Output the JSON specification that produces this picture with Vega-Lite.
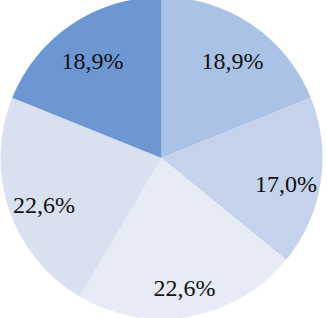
{
  "$schema": "https://vega.github.io/schema/vega-lite/v6.json",
  "width": 327,
  "height": 318,
  "autosize": {"type": "fit", "contains": "padding"},
  "padding": {"left": 0, "top": 0, "right": 4, "bottom": 2},
  "background": "white",
  "view": {"stroke": null},
  "data": {"values": [
    {"k": "a", "v": 18.9, "label": "18,9%"},
    {"k": "b", "v": 17.0, "label": "17,0%"},
    {"k": "c", "v": 22.6, "label": "22,6%"},
    {"k": "d", "v": 22.6, "label": "22,6%"},
    {"k": "e", "v": 18.9, "label": "18,9%"}
  ]},
  "encoding": {
    "theta": {"field": "v", "type": "quantitative", "stack": true},
    "order": {"field": "k", "type": "nominal"}
  },
  "layer": [
    {
      "mark": {"type": "arc", "outerRadius": 161},
      "encoding": {
        "color": {"field": "k", "type": "nominal", "legend": null,
          "scale": {"domain": ["a", "b", "c", "d", "e"], "range": ["#a9c2e6", "#c4d2ec", "#e6ebf5", "#d9e0f0", "#6c97d3"]}}
      }
    },
    {
      "mark": {"type": "text", "radius": 125, "dy": 8, "dx": 1, "font": "Times New Roman", "fontSize": 24, "color": "#111111"},
      "encoding": {"text": {"field": "label"}}
    }
  ]
}
